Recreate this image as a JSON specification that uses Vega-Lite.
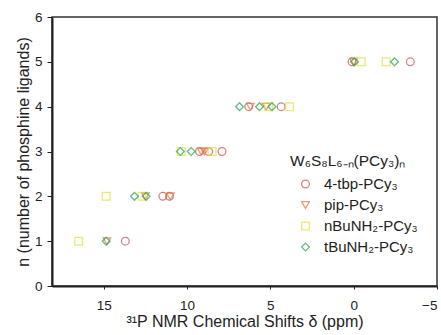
{
  "$schema": "https://vega.github.io/schema/vega-lite/v6.json",
  "autosize": "none",
  "width": 385,
  "height": 269,
  "padding": {"left": 52, "top": 17, "right": 4, "bottom": 49},
  "background": "white",
  "config": {
    "font": "Liberation Sans",
    "view": {"stroke": "#333", "strokeWidth": 1.5},
    "axis": {"grid": false, "domainColor": "#222", "domainWidth": 2, "tickColor": "#222", "labelColor": "#222", "titleColor": "#222", "labelFontSize": 13.5, "titleFontSize": 16, "titleFontWeight": "normal"}
  },
  "data": {"values": [
    {"series": "4-tbp-PCy₃", "shift": 13.7, "n": 1},
    {"series": "4-tbp-PCy₃", "shift": 11.45, "n": 2},
    {"series": "4-tbp-PCy₃", "shift": 11.05, "n": 2},
    {"series": "4-tbp-PCy₃", "shift": 9.25, "n": 3},
    {"series": "4-tbp-PCy₃", "shift": 8.7, "n": 3},
    {"series": "4-tbp-PCy₃", "shift": 7.9, "n": 3},
    {"series": "4-tbp-PCy₃", "shift": 6.3, "n": 4},
    {"series": "4-tbp-PCy₃", "shift": 4.35, "n": 4},
    {"series": "4-tbp-PCy₃", "shift": 0.1, "n": 5},
    {"series": "4-tbp-PCy₃", "shift": -3.4, "n": 5},
    {"series": "pip-PCy₃", "shift": 14.8, "n": 1},
    {"series": "pip-PCy₃", "shift": 12.5, "n": 2},
    {"series": "pip-PCy₃", "shift": 11.0, "n": 2},
    {"series": "pip-PCy₃", "shift": 9.15, "n": 3},
    {"series": "pip-PCy₃", "shift": 8.95, "n": 3},
    {"series": "pip-PCy₃", "shift": 6.2, "n": 4},
    {"series": "pip-PCy₃", "shift": 5.25, "n": 4},
    {"series": "pip-PCy₃", "shift": 0.0, "n": 5},
    {"series": "nBuNH₂-PCy₃", "shift": 16.5, "n": 1},
    {"series": "nBuNH₂-PCy₃", "shift": 14.85, "n": 2},
    {"series": "nBuNH₂-PCy₃", "shift": 12.7, "n": 2},
    {"series": "nBuNH₂-PCy₃", "shift": 10.35, "n": 3},
    {"series": "nBuNH₂-PCy₃", "shift": 8.5, "n": 3},
    {"series": "nBuNH₂-PCy₃", "shift": 5.1, "n": 4},
    {"series": "nBuNH₂-PCy₃", "shift": 3.85, "n": 4},
    {"series": "nBuNH₂-PCy₃", "shift": -0.45, "n": 5},
    {"series": "nBuNH₂-PCy₃", "shift": -1.95, "n": 5},
    {"series": "tBuNH₂-PCy₃", "shift": 14.85, "n": 1},
    {"series": "tBuNH₂-PCy₃", "shift": 13.15, "n": 2},
    {"series": "tBuNH₂-PCy₃", "shift": 12.45, "n": 2},
    {"series": "tBuNH₂-PCy₃", "shift": 10.4, "n": 3},
    {"series": "tBuNH₂-PCy₃", "shift": 9.75, "n": 3},
    {"series": "tBuNH₂-PCy₃", "shift": 6.85, "n": 4},
    {"series": "tBuNH₂-PCy₃", "shift": 5.65, "n": 4},
    {"series": "tBuNH₂-PCy₃", "shift": 4.9, "n": 4},
    {"series": "tBuNH₂-PCy₃", "shift": -0.05, "n": 5},
    {"series": "tBuNH₂-PCy₃", "shift": -2.45, "n": 5}
  ]},
  "mark": {"type": "point", "filled": false, "size": 60, "strokeWidth": 1.3},
  "encoding": {
    "x": {"field": "shift", "type": "quantitative",
      "scale": {"domain": [18.1, -5], "nice": false, "zero": false},
      "axis": {"values": [15, 10, 5, 0, -5], "tickSize": 3, "labelPadding": 9, "title": "³¹P NMR Chemical Shifts δ (ppm)", "titlePadding": 2, "titleFontSize": 16}},
    "y": {"field": "n", "type": "quantitative",
      "scale": {"domain": [0, 6], "nice": false},
      "axis": {"values": [0, 1, 2, 3, 4, 5, 6], "tickSize": 5, "labelPadding": 5, "title": "n (number of phosphine ligands)", "titlePadding": 3}},
    "color": {"field": "series", "type": "nominal",
      "scale": {"domain": ["4-tbp-PCy₃", "pip-PCy₃", "nBuNH₂-PCy₃", "tBuNH₂-PCy₃"], "range": ["#c0504d", "#e8733a", "#e2e03a", "#27a055"]},
      "legend": {"title": "W₆S₈L₆₋ₙ(PCy₃)ₙ", "orient": "none", "legendX": 238, "legendY": 137, "titleFontSize": 15.5, "titleFontWeight": "normal", "titleColor": "#222", "labelFontSize": 15, "labelColor": "#222", "rowPadding": 5, "titlePadding": 7, "symbolStrokeWidth": 1.3, "symbolSize": 60, "symbolOffset": 8, "labelOffset": 11}},
    "shape": {"field": "series", "type": "nominal",
      "scale": {"domain": ["4-tbp-PCy₃", "pip-PCy₃", "nBuNH₂-PCy₃", "tBuNH₂-PCy₃"], "range": ["circle", "triangle-down", "square", "diamond"]}}
  }
}
